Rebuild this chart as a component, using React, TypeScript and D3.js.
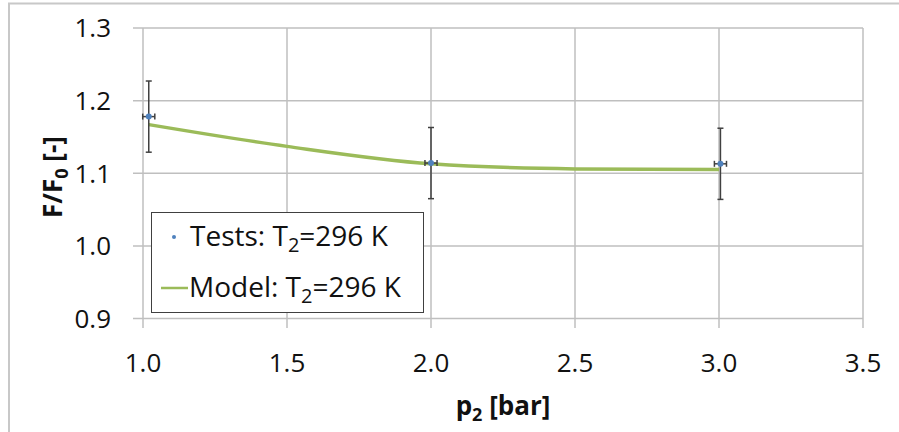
import * as d3 from "d3";

const xTicks = [1.0, 1.5, 2.0, 2.5, 3.0, 3.5];
const yTicks = [0.9, 1.0, 1.1, 1.2, 1.3];

// test points with error bars
const testP = [1.02, 2.0, 3.005];
const testF = [1.178, 1.114, 1.113];
const testYErr = [0.049, 0.049, 0.049];
const testXErr = [0.021, 0.021, 0.021];

// model curve
const modelP = [1.02, 1.5, 2.0, 2.5, 3.0];
const modelF = [1.167, 1.137, 1.113, 1.106, 1.105];

const W = 899;
const H = 432;
const FONT = "'Open Sans', 'Liberation Sans', sans-serif";

export default function App() {
  const x = d3.scaleLinear().domain([1.0, 3.5]).range([143, 863]);
  const y = d3.scaleLinear().domain([0.9, 1.3]).range([318.5, 28]);

  const line = d3
    .line<number>()
    .x((d, i) => x(modelP[i]))
    .y((d) => y(d))
    .curve(d3.curveMonotoneX);

  const grid = "#bfbfbf";
  const errCol = "#404040";

  return (
    <svg
      width={W}
      height={H}
      style={{ position: "absolute", left: 0, top: 0, background: "#fff" }}
    >
      <rect x={9} y={3.5} width={W} height={H} fill="#fff" stroke="#c8c8c8" strokeWidth={2} />

      {/* horizontal grid + left ticks */}
      {yTicks.map((t) => (
        <g key={"y" + t}>
          <line x1={133} x2={x(3.5)} y1={y(t)} y2={y(t)} stroke={grid} strokeWidth={1.5} />
          <text
            x={111}
            y={y(t)}
            dy="0.36em"
            textAnchor="end"
            fontFamily={FONT}
            fontSize={26}
            fill="#111"
          >
            {t.toFixed(1)}
          </text>
        </g>
      ))}

      {/* vertical grid + bottom ticks */}
      {xTicks.map((t) => (
        <g key={"x" + t}>
          <line x1={x(t)} x2={x(t)} y1={y(1.3)} y2={328} stroke={grid} strokeWidth={1.5} />
          <text
            x={x(t)}
            y={372}
            textAnchor="middle"
            fontFamily={FONT}
            fontSize={26}
            fill="#111"
          >
            {t.toFixed(1)}
          </text>
        </g>
      ))}

      {/* model */}
      <path d={line(modelF) || ""} fill="none" stroke="#9bbb59" strokeWidth={3.5} />

      {/* tests with error bars */}
      {testP.map((p, i) => {
        const cx = x(p);
        const cy = y(testF[i]);
        const y0 = y(testF[i] - testYErr[i]);
        const y1 = y(testF[i] + testYErr[i]);
        const x0 = x(p - testXErr[i]);
        const x1 = x(p + testXErr[i]);
        return (
          <g key={"t" + i}>
            <line x1={cx} x2={cx} y1={y0} y2={y1} stroke={errCol} strokeWidth={1.5} />
            <line x1={cx - 3} x2={cx + 3} y1={y0} y2={y0} stroke={errCol} strokeWidth={1.5} />
            <line x1={cx - 3} x2={cx + 3} y1={y1} y2={y1} stroke={errCol} strokeWidth={1.5} />
            <line x1={x0} x2={x1} y1={cy} y2={cy} stroke={errCol} strokeWidth={1.5} />
            <line x1={x0} x2={x0} y1={cy - 3} y2={cy + 3} stroke={errCol} strokeWidth={1.5} />
            <line x1={x1} x2={x1} y1={cy - 3} y2={cy + 3} stroke={errCol} strokeWidth={1.5} />
            <circle cx={cx} cy={cy} r={3} fill="#4f81bd" />
          </g>
        );
      })}

      {/* legend */}
      <rect x={151.5} y={212.5} width={272} height={100} fill="#fff" stroke="#404040" strokeWidth={1} />
      <circle cx={174} cy={237} r={2} fill="#4f81bd" />
      <text x={190} y={246} fontFamily={FONT} fontSize={28} fill="#111">
        Tests: T
        <tspan fontSize={20} dy={6}>2</tspan>
        <tspan dy={-6}>=296 K</tspan>
      </text>
      <line x1={161} x2={188} y1={288} y2={288} stroke="#9bbb59" strokeWidth={2.5} />
      <text x={189} y={297} fontFamily={FONT} fontSize={28} fill="#111">
        Model: T
        <tspan fontSize={20} dy={6}>2</tspan>
        <tspan dy={-6}>=296 K</tspan>
      </text>

      {/* axis titles */}
      <text
        x={503}
        y={415}
        textAnchor="middle"
        fontFamily={FONT}
        fontSize={26}
        fontWeight="bold"
        fill="#111"
      >
        p<tspan fontSize={18} dy={6}>2</tspan>
        <tspan dy={-6}> [bar]</tspan>
      </text>
      <text
        transform="translate(62,177) rotate(-90)"
        textAnchor="middle"
        fontFamily={FONT}
        fontSize={26}
        fontWeight="bold"
        fill="#111"
      >
        F/F<tspan fontSize={18} dy={6}>0</tspan>
        <tspan dy={-6}> [-]</tspan>
      </text>
    </svg>
  );
}
